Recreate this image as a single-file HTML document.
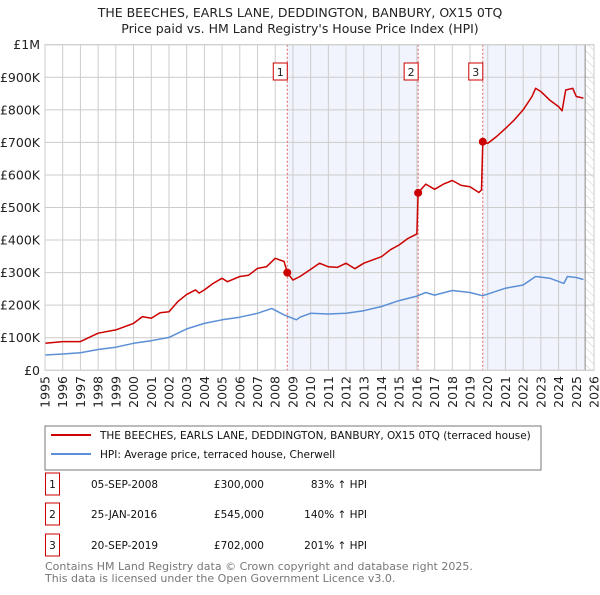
<!DOCTYPE html>
<html><head><meta charset="utf-8"><style>
body{margin:0;background:#fff;font-family:"Liberation Sans","DejaVu Sans",sans-serif;}
svg text{font-family:"DejaVu Sans","Liberation Sans",sans-serif;}
</style></head><body>
<svg id="c" width="600" height="590" xmlns="http://www.w3.org/2000/svg">
<text x="300" y="17" text-anchor="middle" font-size="12.5" fill="#222">THE BEECHES, EARLS LANE, DEDDINGTON, BANBURY, OX15 0TQ</text>
<text x="300" y="33" text-anchor="middle" font-size="12.5" fill="#222">Price paid vs. HM Land Registry's House Price Index (HPI)</text>
<g id="plot"></g>
<rect x="45" y="426" width="496" height="44" fill="#fff" stroke="#777"/>
<line x1="51" y1="435" x2="91" y2="435" stroke="#cc0000" stroke-width="2"/>
<text x="100" y="439" font-size="10.5" fill="#111">THE BEECHES, EARLS LANE, DEDDINGTON, BANBURY, OX15 0TQ (terraced house)</text>
<line x1="51" y1="454" x2="91" y2="454" stroke="#5b8fd6" stroke-width="2"/>
<text x="100" y="458" font-size="10.5" fill="#111">HPI: Average price, terraced house, Cherwell</text>
<g id="table" font-size="10.5" fill="#111"></g>
<text x="45" y="570" font-size="11" fill="#777">Contains HM Land Registry data © Crown copyright and database right 2025.</text>
<text x="45" y="582" font-size="11" fill="#777">This data is licensed under the Open Government Licence v3.0.</text>
</svg>
<script>
const redYears=[1995,1996,1997,1998,1999,2000,2000.5,2001,2001.5,2002,2002.5,2003,2003.5,2003.7,2004,2004.5,2005,2005.3,2006,2006.5,2007,2007.5,2008,2008.5,2008.68,2009,2009.4,2010,2010.5,2011,2011.5,2012,2012.5,2013,2013.5,2014,2014.5,2015,2015.5,2016.0,2016.07,2016.5,2017,2017.5,2018,2018.5,2019,2019.5,2019.65,2019.72,2020,2020.5,2021,2021.5,2022,2022.5,2022.7,2023,2023.5,2024,2024.2,2024.4,2024.8,2025,2025.4];
const redValues=[83,88,88,114,124,144,165,160,177,180,211,233,247,237,247,267,283,272,288,292,313,318,344,334,300,277,288,310,329,318,316,329,312,329,339,349,370,385,405,419,545,572,556,572,583,568,564,546,554,702,697,718,743,769,800,841,866,856,830,810,797,861,866,841,836];
const hpiYears=[1995,1996,1997,1998,1999,2000,2001,2002,2003,2004,2005,2006,2007,2007.8,2008.5,2009.2,2009.4,2010,2011,2012,2013,2014,2015,2016,2016.5,2017,2018,2019,2019.7,2020,2021,2022,2022.7,2023.5,2024.3,2024.5,2025,2025.4];
const hpiValues=[47,50,54,64,71,83,91,101,127,144,155,163,175,190,170,155,163,175,173,175,183,196,214,228,239,231,245,239,229,234,252,262,288,283,267,288,285,279];
const saleYears=[2008.68,2016.07,2019.72];
const saleValues=[300,545,702];
const saleLabels=["1","2","3"];
const saleDates=["05-SEP-2008","25-JAN-2016","20-SEP-2019"];
const salePrices=["£300,000","£545,000","£702,000"];
const saleHpi=["83% ↑ HPI","140% ↑ HPI","201% ↑ HPI"];
const yTicks=[0,100,200,300,400,500,600,700,800,900,1000];
const yTickLabels=["£0","£100K","£200K","£300K","£400K","£500K","£600K","£700K","£800K","£900K","£1M"];
const NS="http://www.w3.org/2000/svg";
const X0=45,X1=594,Y0=370.3,Y1=44.7;
const sx=y=>X0+(y-1995)*(X1-X0)/31;
const sy=v=>Y0-(v/1000)*(Y0-Y1);
const g=document.getElementById('plot');
function mk(t,a,p){const e=document.createElementNS(NS,t);for(const k in a)e.setAttribute(k,a[k]);(p||g).appendChild(e);return e;}
let r;
r=mk('rect',{x:sx(saleYears[0]),y:Y1,width:sx(saleYears[1])-sx(saleYears[0]),height:Y0-Y1,fill:'#f1f4fd'});


r=mk('rect',{x:sx(saleYears[2]),y:Y1,width:sx(2025.5)-sx(saleYears[2]),height:Y0-Y1,fill:'#f1f4fd'});


const defs=mk('defs',{});
const pat=mk('pattern',{id:'hatch',width:6,height:6,patternUnits:'userSpaceOnUse',patternTransform:'rotate(-45)'},defs);
mk('line',{x1:0,y1:0,x2:0,y2:6,stroke:'#ccc','stroke-width':1},pat);
r=mk('rect',{x:sx(2025.5),y:Y1,width:X1-sx(2025.5),height:Y0-Y1,fill:'url(#hatch)'});


for(let i=0;i<yTicks.length;i++){
 const y=sy(yTicks[i]);
 const l=mk('line',{x1:X0,y1:y,x2:X1,y2:y,stroke:'#ccc','stroke-width':1});
 
 
 const t=mk('text',{x:40,y:y+4.5,'text-anchor':'end','font-size':12.5,fill:'#222'});
 t.textContent=yTickLabels[i];
 
 
}
for(let yr=1995;yr<=2026;yr++){
 const x=sx(yr);
 const l=mk('line',{x1:x,y1:Y1,x2:x,y2:Y0,stroke:'#ccc','stroke-width':1});
 
 
 const t=mk('text',{x:0,y:0,'text-anchor':'end','font-size':12.5,fill:'#222',transform:`translate(${x+4.5},376) rotate(-90)`});
 t.textContent=yr;
 
 
}
r=mk('line',{x1:sx(2025.5),y1:Y1,x2:sx(2025.5),y2:Y0,stroke:'#888','stroke-width':1});


for(let i=0;i<saleYears.length;i++){
 const x=sx(saleYears[i]);
 const l=mk('line',{x1:x,y1:Y1,x2:x,y2:Y0,stroke:'#e06060','stroke-width':1,'stroke-dasharray':'2,2'});
 
 
 const b=mk('rect',{x:x-14,y:63,width:14,height:17,fill:'#fff',stroke:'#c00'});
 
 
 const t=mk('text',{x:x-7,y:76,'text-anchor':'middle','font-size':11,fill:'#222'});
 t.textContent=saleLabels[i];
 
 
}
function line(xs,vs,c,name){
 const p=mk('polyline',{points:xs.map((x,i)=>sx(x).toFixed(1)+','+sy(vs[i]).toFixed(1)).join(' '),fill:'none',stroke:c,'stroke-width':1.5,'stroke-linejoin':'round'});
 
 
}
line(hpiYears,hpiValues,'#5b8fd6','hpi-line');
line(redYears,redValues,'#cc0000','property-price-line');
for(let i=0;i<saleYears.length;i++){
 const c=mk('circle',{cx:sx(saleYears[i]),cy:sy(saleValues[i]),r:4,fill:'#cc0000'});
 
 
}
mk('rect',{x:X0,y:Y1,width:X1-X0,height:Y0-Y1,fill:'none',stroke:'#ccc'});
const tb=document.getElementById('table');
const rowsY=[483,513,544];
for(let i=0;i<saleLabels.length;i++){
 const y=rowsY[i];
 const b=mk('rect',{x:45.5,y:y-10,width:14,height:22,fill:'#fff',stroke:'#c00'},tb);
 
 
 const cells=[[52.5,saleLabels[i],'middle'],[91,saleDates[i],'start'],[264,salePrices[i],'end'],[367,saleHpi[i],'end']];
 for(const [x,s,a] of cells){
  const t=mk('text',{x:x,y:y+5,'text-anchor':a},tb);
  t.textContent=s;
  
  
 }
}
</script>
</body></html>
